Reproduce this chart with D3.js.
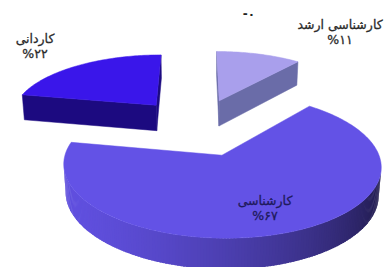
<!DOCTYPE html>
<html>
<head>
<meta charset="utf-8">
<script src="https://cdn.jsdelivr.net/npm/d3@7"></script>
<style>
  body { margin: 0; background: #fff; }
  svg { display: block; }
  text { font-family: "DejaVu Sans", sans-serif; }
</style>
</head>
<body>
<svg id="chart" width="386" height="267"></svg>
<script>
// Education level pie (3D, exploded)

// data
const categories = ["کارشناسی ارشد", "کارشناسی", "کاردانی"];
const percents = [11, 67, 22];
const percentLabels = ["%۱۱", "%۶۷", "%۲۲"];
const zeroLabel = "-۰";   // a 0% category, name is cut off above the picture

// styles
const topColours = ["#a99fec", "#6352e6", "#3a16ea"];
const faceColours = ["#6a6ca8", "#4a3dc4", "#1c0a80"];
const labelColours = ["#2b2b2b", "#1f1a5c", "#2b2b2b"];

// label anchors (pixels, first line baseline)
const labelPos = [[340, 29], [265, 205], [35, 43]];

// camera / pie geometry, pie radius is 1 unit
const cam = { D: 6.57, F: 970, tilt: 25.1 * Math.PI / 180, cx: 197.5, cy: 126.4 };
const thick = 0.2;
const explode = 0.46;
const light = [-0.894, -0.447];   // light comes from the front left

const cosT = Math.cos(cam.tilt), sinT = Math.sin(cam.tilt);
const camPos = [0, -cam.D * cosT, cam.D * sinT];

// project a point on the pie plane (u right, v away from viewer, h up)
function project(u, v, h) {
  const depth = cam.D + v * cosT - h * sinT;
  const up = v * sinT + h * cosT;
  return [cam.cx + cam.F * u / depth, cam.cy - cam.F * up / depth];
}

function facing(n, p) {
  return n[0] * (camPos[0] - p[0]) + n[1] * (camPos[1] - p[1]) + n[2] * (camPos[2] - p[2]) > 0;
}

const svg = d3.select('svg#chart');
const line = d3.line();

const pie = d3.pie().sort(null).value(d => d)
  .startAngle(0).endAngle(2 * Math.PI);
const arcs = pie(percents);

// build the faces of each slice
const slices = arcs.map(function (a, i) {
  const mid = (a.startAngle + a.endAngle) / 2;
  const ou = explode * Math.sin(mid), ov = explode * Math.cos(mid);
  const rim = (t, h) => [ou + Math.sin(t), ov + Math.cos(t), h];
  const steps = Math.max(4, Math.ceil((a.endAngle - a.startAngle) / (Math.PI / 180)));
  const angles = d3.range(steps + 1).map(k => a.startAngle + (a.endAngle - a.startAngle) * k / steps);
  return { i: i, a: a, ou: ou, ov: ov, rim: rim, angles: angles };
});

// far slices first
slices.sort((p, q) => q.ov - p.ov);

const groups = svg.selectAll('g.slice')
  .data(slices)
  .enter()
  .append('g')
  .attr('class', 'slice');

groups.each(function (s) {
  const g = d3.select(this);
  const a = s.a;
  const apexTop = [s.ou, s.ov, 0], apexBot = [s.ou, s.ov, -thick];
  const P = p => project(p[0], p[1], p[2]);

  // the two flat cut faces
  const faces = [
    { n: [-Math.cos(a.startAngle), Math.sin(a.startAngle), 0], t: a.startAngle },
    { n: [Math.cos(a.endAngle), -Math.sin(a.endAngle), 0], t: a.endAngle }
  ];
  faces.forEach(function (f) {
    const pts = [apexTop, s.rim(f.t, 0), s.rim(f.t, -thick), apexBot];
    const c = [(pts[0][0] + pts[1][0]) / 2, (pts[0][1] + pts[1][1]) / 2, -thick / 2];
    if (!facing(f.n, c)) return;
    g.append('path')
      .attr('d', line(pts.map(P)) + 'Z')
      .attr('fill', faceColours[s.i])
      .attr('stroke', faceColours[s.i])
      .attr('stroke-width', 0.5);
  });

  // curved outer side, shaded strip by strip (strips overlap a little so no seams show)
  const shade = d3.interpolateRgb(d3.color(topColours[s.i]).darker(4), d3.color(topColours[s.i]).darker(0.1));
  const overlap = Math.PI / 180 * 0.6;
  for (let k = 0; k < s.angles.length - 1; k++) {
    const t0 = s.angles[k], t1 = s.angles[k + 1], tm = (t0 + t1) / 2;
    const n = [Math.sin(tm), Math.cos(tm), 0];
    const c = s.rim(tm, -thick / 2);
    if (!facing(n, c)) continue;
    const lit = (n[0] * light[0] + n[1] * light[1] + 1) / 2;
    const t1x = Math.min(t1 + overlap, s.a.endAngle);
    const pts = [s.rim(t0, 0), s.rim(t1x, 0), s.rim(t1x, -thick), s.rim(t0, -thick)];
    g.append('path')
      .attr('d', line(pts.map(P)) + 'Z')
      .attr('fill', shade(lit));
  }

  // top
  const top = [apexTop].concat(s.angles.map(t => s.rim(t, 0)));
  g.append('path')
    .attr('d', line(top.map(P)) + 'Z')
    .attr('fill', topColours[s.i])
    .attr('stroke', topColours[s.i])
    .attr('stroke-width', 0.5);
});

// labels
const labels = svg.selectAll('g.label')
  .data(categories)
  .enter()
  .append('g')
  .attr('class', 'label')
  .attr('transform', (d, i) => 'translate(' + labelPos[i][0] + ',' + labelPos[i][1] + ')');

labels.append('text')
  .attr('text-anchor', 'middle')
  .attr('font-size', 12.5)
  .attr('fill', (d, i) => labelColours[i])
  .attr('stroke', (d, i) => labelColours[i])
  .attr('stroke-width', 0.3)
  .text(d => d);

labels.append('text')
  .attr('text-anchor', 'middle')
  .attr('y', 15)
  .attr('font-size', 12.5)
  .attr('fill', (d, i) => labelColours[i])
  .attr('stroke', (d, i) => labelColours[i])
  .attr('stroke-width', 0.3)
  .text((d, i) => percentLabels[i]);

svg.append('text')
  .attr('x', 249)
  .attr('y', 18)
  .attr('text-anchor', 'middle')
  .attr('font-size', 12)
  .attr('font-weight', 'bold')
  .attr('fill', '#222')
  .text(zeroLabel);
</script>
</body>
</html>
